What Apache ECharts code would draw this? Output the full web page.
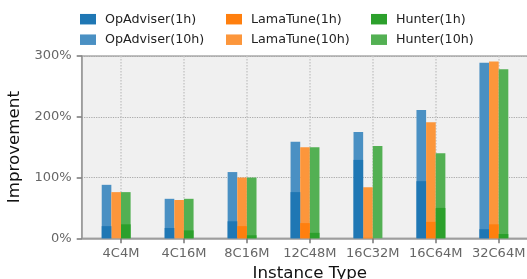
<!DOCTYPE html>
<html>
<head>
<meta charset="utf-8">
<script src="https://cdn.jsdelivr.net/npm/echarts@6/dist/echarts.min.js"></script>
<style>
html,body{margin:0;padding:0;background:#fff;}
#c{width:527px;height:279px;}
</style>
</head>
<body>
<div id="c"></div>
<script>
// ---- data ----
const categories = ['4C4M', '4C16M', '8C16M', '12C48M', '16C32M', '16C64M', '32C64M'];
const opadviser1h  = [20, 17, 28, 76, 129, 94, 15];
const opadviser10h = [88, 65, 109, 159, 175, 211, 289];
const lamatune1h   = [0, 0, 20, 25, 1, 27, 23];
const lamatune10h  = [76, 63, 100, 150, 84, 191, 291];
const hunter1h     = [23, 13, 5, 9, 0, 50, 7];
const hunter10h    = [76, 65, 100, 150, 152, 140, 278];
const yTicks = [0, 100, 200, 300];

// ---- chart ----
const font = 'DejaVu Sans';
const barUnit = 0.153; // bar width in category units
const xMin = -0.624, xMax = 6.624;
const gridLeft = 81.7, gridTop = 56, gridHeight = 182.3;
const pxPerUnit = 62.95;
const barPx = barUnit * pxPerUnit;

const C = {
  op1: '#1f77b4', op10: '#4a90c3',
  la1: '#ff7f0e', la10: '#fc963b',
  hu1: '#2ca02c', hu10: '#53b053'
};

function pts(arr, shift) {
  return arr.map((v, i) => [i + shift * barUnit, v]);
}
function bar(name, arr, shift, color, z) {
  return {
    name: name, type: 'bar', data: pts(arr, shift),
    barWidth: barPx, barGap: '-100%', z: z,
    itemStyle: { color: color }, silent: true, animation: false
  };
}

const series = [
  bar('OpAdviser(10h)', opadviser10h, -1.5, C.op10, 2),
  bar('OpAdviser(1h)', opadviser1h, -1.5, C.op1, 3),
  bar('LamaTune(10h)', lamatune10h, -0.5, C.la10, 2),
  bar('LamaTune(1h)', lamatune1h, -0.5, C.la1, 3),
  bar('Hunter(10h)', hunter10h, 0.5, C.hu10, 2),
  bar('Hunter(1h)', hunter1h, 0.5, C.hu1, 3)
];

function leg(name, left, top) {
  return {
    data: [name], left: left, top: top, padding: 0,
    itemWidth: 16, itemHeight: 10.5, icon: 'rect', selectedMode: false,
    textStyle: { fontFamily: font, fontSize: 12.7, color: '#222', padding: [0, 0, 0, 4] }
  };
}

const legends = [
  leg('OpAdviser(1h)', 80, 12.7),
  leg('LamaTune(1h)', 226, 12.7),
  leg('Hunter(1h)', 371, 12.7),
  leg('OpAdviser(10h)', 80, 33.2),
  leg('LamaTune(10h)', 226, 33.2),
  leg('Hunter(10h)', 371, 33.2)
];

const chart = echarts.init(document.getElementById('c'), null, { renderer: 'canvas' });
chart.setOption({
  animation: false,
  legend: legends,
  grid: {
    left: gridLeft, top: gridTop, width: (xMax - xMin) * pxPerUnit, height: gridHeight,
    show: true, backgroundColor: '#f0f0f0', borderColor: '#aaaaaa', borderWidth: 1.5,
    containLabel: false, outerBoundsMode: 'none'
  },
  xAxis: {
    type: 'value', min: xMin, max: xMax,
    name: 'Instance Type', nameLocation: 'middle', nameGap: 24,
    nameTextStyle: { fontFamily: font, fontSize: 16.7, color: '#111' },
    axisLine: { show: true, onZero: false, lineStyle: { color: '#999', width: 1.5 } },
    axisTick: { show: true, length: 5, lineStyle: { color: '#777', width: 1.5 },
                customValues: categories.map((c, i) => i) },
    axisLabel: { customValues: categories.map((c, i) => i), margin: 9,
                 fontFamily: font, fontSize: 13, color: '#666',
                 formatter: v => categories[Math.round(v)] },
    splitLine: { show: true, lineStyle: { color: '#c8c8c8', type: 'dotted', width: 1.5 } }
  },
  yAxis: {
    type: 'value', min: 0, max: 300, interval: 100,
    name: 'Improvement', nameLocation: 'middle', nameGap: 54, nameRotate: 90,
    nameTextStyle: { fontFamily: font, fontSize: 16.7, color: '#111' },
    axisLine: { show: true, onZero: false, lineStyle: { color: '#999', width: 1.5 } },
    axisTick: { show: true, length: 5, lineStyle: { color: '#777', width: 1.5 } },
    axisLabel: { margin: 10, fontFamily: font, fontSize: 13, color: '#666',
                 formatter: v => v + '%', customValues: yTicks },
    splitLine: { show: true, lineStyle: { color: '#a8a8a8', type: 'dotted', width: 1.2 } }
  },
  series: series
});
</script>
</body>
</html>
